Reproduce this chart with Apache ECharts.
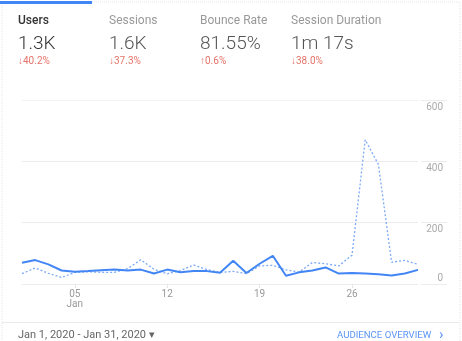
<!DOCTYPE html>
<html>
<head>
<meta charset="utf-8">
<script src="https://cdn.jsdelivr.net/npm/echarts@6/dist/echarts.min.js"></script>
<style>
html,body{margin:0;padding:0;background:#fff;}
#c{width:462px;height:341px;}
</style>
</head>
<body>
<div id="c"></div>
<script>
const days = ['01','02','03','04','05','06','07','08','09','10','11','12','13','14','15','16','17','18','19','20','21','22','23','24','25','26','27','28','29','30','31'];
const users = [69,78,64,44,40,42,45,47,44,47,34,47,38,42,42,37,76,36,66,92,27,38,44,54,34,36,34,32,28,34,46];
const sessions = [34,52,35,21,38,40,38,38,50,79,48,33,44,62,47,38,41,34,59,61,46,39,70,66,59,94,470,390,71,77,64];
const xLabelDays = ['05','12','19','26'];
const monthLabel = 'Jan';
const metricNames = ['Users','Sessions','Bounce Rate','Session Duration'];
const metricValues = ['1.3K','1.6K','81.55%','1m 17s'];
const metricChanges = ['↓40.2%','↓37.3%','↑0.6%','↓38.0%'];
const dateRange = 'Jan 1, 2020 - Jan 31, 2020 ▾';
const linkText = 'AUDIENCE OVERVIEW';

const FONT = 'Roboto, "Noto Sans", sans-serif';
const colX = [18, 109, 200, 291];

const graphics = [
  {type:'rect', shape:{x:2, y:2, width:458, height:345}, style:{fill:'none', stroke:'#e6e6e6', lineWidth:1, lineDash:[1,1]}, z:1},
  {type:'rect', shape:{x:0, y:1, width:92, height:3}, style:{fill:'#4285f4'}, z:5},
  {type:'line', shape:{x1:2, y1:322.5, x2:460, y2:322.5}, style:{stroke:'#ebebeb', lineWidth:1}, z:2},
  {type:'text', left:18, top:330, style:{text:dateRange, font:'11px ' + FONT, fill:'#666'}, z:5},
  {type:'text', left:337, top:331, style:{text:linkText, font:'9.6px ' + FONT, fill:'#5b95f5'}, z:5},
  {type:'text', left:439, top:328, style:{text:'›', font:'15px ' + FONT, fill:'#5b95f5'}, z:5}
];
metricNames.forEach((n, i) => {
  graphics.push({type:'text', left:colX[i], top:15, style:{text:n, font:(i===0?'500 ':'400 ') + '12px ' + FONT, fill:i===0?'#333':'#999'}, z:5});
  graphics.push({type:'text', left:colX[i], top:35, style:{text:metricValues[i], font:'300 19px ' + FONT, fill:i===0?'#333':'#555'}, z:5});
  graphics.push({type:'text', left:colX[i], top:56, style:{text:metricChanges[i], font:'10px ' + FONT, fill:'#e57368'}, z:5});
});

function showIdx(idx){ return xLabelDays.indexOf(days[idx]) >= 0; }

const chart = echarts.init(document.getElementById('c'), null, {renderer:'canvas'});
chart.setOption({
  animation:false,
  textStyle:{fontFamily:FONT},
  grid:{left:22, right:44, top:100, bottom:57, containLabel:false},
  xAxis:{
    type:'category', data:days, boundaryGap:false,
    axisLine:{show:false},
    axisTick:{show:true, interval:(i)=>showIdx(i), length:4, lineStyle:{color:'#e6e6e6'}},
    axisLabel:{interval:(i)=>showIdx(i), color:'#999', fontSize:10, margin:5, lineHeight:10,
      formatter:(v)=> v===xLabelDays[0] ? v + '\n' + monthLabel : v},
    splitLine:{show:false}
  },
  yAxis:[{
    type:'value', min:0, max:600, interval:200, position:'right', offset:3,
    axisLine:{show:false},
    axisTick:{show:true, length:26, inside:false, lineStyle:{color:'#ececec'}},
    axisLabel:{align:'right', margin:22, verticalAlign:'top', color:'#aaa', fontSize:10, padding:[2,0,0,0],
      formatter:(v)=> v===0 ? '' : String(v)},
    splitLine:{show:true, lineStyle:{color:['#ececec','#ececec','#ececec','#f2f2f2']}}
  },{
    type:'value', min:0, max:600, interval:200, position:'right', offset:3,
    axisLine:{show:false}, axisTick:{show:false}, splitLine:{show:false},
    axisLabel:{align:'right', margin:22, verticalAlign:'bottom', color:'#aaa', fontSize:10, padding:[0,0,1,0],
      formatter:(v)=> v===0 ? '0' : ''}
  }],
  series:[
    {name:'Users (previous)', type:'line', data:sessions, yAxisIndex:0, showSymbol:false, symbol:'none',
      lineStyle:{color:'#7baaf7', width:1.3, type:[2,2]}, z:2},
    {name:'Users', type:'line', data:users, yAxisIndex:0, showSymbol:false, symbol:'none',
      lineStyle:{color:'#4285f4', width:2}, z:3}
  ],
  graphic:graphics
});
</script>
</body>
</html>
